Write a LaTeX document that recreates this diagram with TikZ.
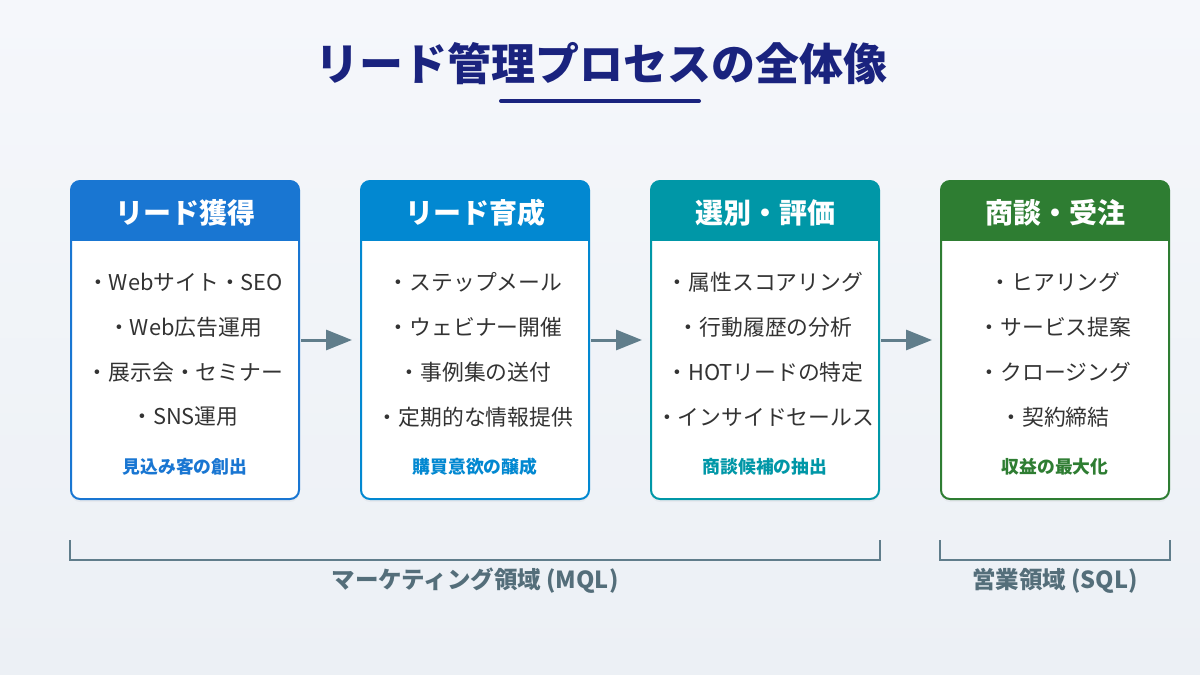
\documentclass[tikz,border=0pt]{standalone}
\usepackage{fontspec}
\setmainfont{Noto Sans CJK JP}
\usetikzlibrary{arrows.meta,shadows}
\definecolor{cA}{HTML}{1976D2}
\definecolor{cB}{HTML}{0288D1}
\definecolor{cC}{HTML}{0097A7}
\definecolor{cD}{HTML}{2E7D32}
\definecolor{ttl}{HTML}{1A237E}
\definecolor{arrc}{HTML}{607D8B}
\definecolor{lblc}{HTML}{546E7A}
\definecolor{txtc}{HTML}{333333}
\definecolor{bgA}{HTML}{F5F7FB}
\definecolor{bgB}{HTML}{ECF0F5}
\tikzset{
  stagebox/.style={draw=#1, fill=white, line width=2pt, rounded corners=9pt,
    minimum width=228pt, minimum height=318pt, inner sep=0pt,
    drop shadow={opacity=0.07, shadow xshift=0pt, shadow yshift=-3pt},
    path picture={\fill[#1, sharp corners] (path picture bounding box.north west) rectangle ([yshift=-60pt]path picture bounding box.north east);}},
  headtxt/.style={text=white, font=\bfseries\fontsize{28}{32}\selectfont, inner sep=0pt},
  itemtxt/.style={text=txtc, font=\fontsize{21.8}{26}\selectfont, inner sep=0pt},
  foottxt/.style={text=#1, font=\bfseries\fontsize{17.8}{21}\selectfont, inner sep=0pt},
  flowarr/.style={draw=arrc, line width=3pt, -{Triangle[length=26pt,width=20pt]}, shorten <=1pt, shorten >=8pt},
  brk/.style={draw=arrc, line width=2pt},
  brklbl/.style={text=lblc, font=\bfseries\fontsize{23.5}{27}\selectfont, inner sep=0pt}
}
\begin{document}
\begin{tikzpicture}[x=1pt,y=-1pt]
\useasboundingbox (0,0) rectangle (1200,675);
\shade[top color=bgA, bottom color=bgB] (0,0) rectangle (1200,675);
% title
\node[text=ttl, font=\bfseries\fontsize{44}{50}\selectfont, inner sep=0pt] (title) at (601,64) {リード管理プロセスの全体像};
\coordinate (ulL) at (501,101);
\coordinate (ulR) at (699,101);
\draw[ttl, line width=4pt, line cap=round] (ulL) -- (ulR);
% boxes
\node[stagebox=cA] (b1) at (185,340) {};
\node[stagebox=cB] (b2) at (475,340) {};
\node[stagebox=cC] (b3) at (765,340) {};
\node[stagebox=cD] (b4) at (1055,340) {};
% headers
\node[headtxt] (h1) at (185,213) {リード獲得};
\node[headtxt] (h2) at (475,213) {リード育成};
\node[headtxt] (h3) at (765,213) {選別・評価};
\node[headtxt] (h4) at (1055,213) {商談・受注};
% items box 1
\node[itemtxt] (i11) at (185,282) {・Webサイト・SEO};
\node[itemtxt] (i12) at (185,327) {・Web広告運用};
\node[itemtxt] (i13) at (185,372) {・展示会・セミナー};
\node[itemtxt] (i14) at (185,417) {・SNS運用};
% items box 2
\node[itemtxt] (i21) at (475,282) {・ステップメール};
\node[itemtxt] (i22) at (475,327) {・ウェビナー開催};
\node[itemtxt] (i23) at (475,372) {・事例集の送付};
\node[itemtxt] (i24) at (475,417) {・定期的な情報提供};
% items box 3
\node[itemtxt] (i31) at (765,282) {・属性スコアリング};
\node[itemtxt] (i32) at (765,327) {・行動履歴の分析};
\node[itemtxt] (i33) at (765,372) {・HOTリードの特定};
\node[itemtxt] (i34) at (765,417) {・インサイドセールス};
% items box 4
\node[itemtxt] (i41) at (1055,282) {・ヒアリング};
\node[itemtxt] (i42) at (1055,327) {・サービス提案};
\node[itemtxt] (i43) at (1055,372) {・クロージング};
\node[itemtxt] (i44) at (1055,417) {・契約締結};
% footers
\node[foottxt=cA] (f1) at (185,467) {見込み客の創出};
\node[foottxt=cB] (f2) at (475,467) {購買意欲の醸成};
\node[foottxt=cC] (f3) at (765,467) {商談候補の抽出};
\node[foottxt=cD] (f4) at (1055,467) {収益の最大化};
% arrows
\draw[flowarr] (b1.east) -- (b2.west);
\draw[flowarr] (b2.east) -- (b3.west);
\draw[flowarr] (b3.east) -- (b4.west);
% brackets
\coordinate (mA) at (70,540);
\coordinate (mB) at (70,560);
\coordinate (mC) at (880,560);
\coordinate (mD) at (880,540);
\draw[brk] (mA) -- (mB) -- (mC) -- (mD);
\coordinate (sA) at (940,540);
\coordinate (sB) at (940,560);
\coordinate (sC) at (1170,560);
\coordinate (sD) at (1170,540);
\draw[brk] (sA) -- (sB) -- (sC) -- (sD);
\node[brklbl] (mql) at (475,581) {マーケティング領域 (MQL)};
\node[brklbl] (sql) at (1055,581) {営業領域 (SQL)};
\end{tikzpicture}
\end{document}
